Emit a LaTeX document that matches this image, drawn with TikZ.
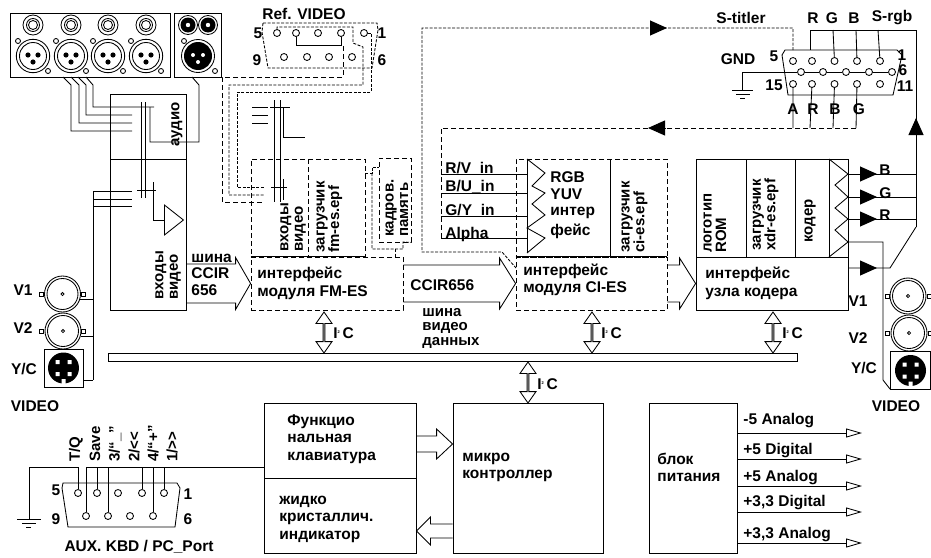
\documentclass[tikz,border=0pt]{standalone}
\usepackage{fontspec}
\setmainfont{Liberation Sans}
\usetikzlibrary{positioning,shapes.arrows,shapes.geometric,arrows.meta,calc}

\begin{document}
\begin{tikzpicture}[
  x=1pt, y=-1pt,
  line width=0.85pt,
  every node/.style={font=\fontsize{15.5}{17.5}\bfseries\selectfont},
  lbl/.style={inner sep=0pt, anchor=west, align=left},
  rlbl/.style={inner sep=0pt, anchor=west, align=left, rotate=90,
               font=\fontsize{15}{14.5}\bfseries\selectfont},
  cl/.style={inner sep=0pt, anchor=center},
  solidbox/.style={rectangle, draw, inner sep=0pt},
  dashbox/.style={rectangle, draw, inner sep=0pt, dash pattern=on 5pt off 3pt},
  hole/.style={circle, draw, fill=white, inner sep=0pt, minimum size=7pt},
  dashwire/.style={dash pattern=on 5pt off 3pt},
  finewire/.style={dash pattern=on 3pt off 1.5pt},
  headfill/.style={-{Triangle[length=17pt,width=15pt]}},
  headopen/.style={-{Triangle[open,length=16pt,width=9pt]}},
  fat/.style n args={3}{to path={
    ($(\tikztostart)+(0,-#1)$) -- ($(\tikztotarget)+({-(#3)},-#1)$) -- ++(0,-#2)
    -- (\tikztotarget) -- ($(\tikztotarget)+({-(#3)},#1+#2)$) -- ++(0,-#2)
    -- ($(\tikztostart)+(0,#1)$)}},
  i2carrow/.style={double arrow, draw, fill=white, inner sep=0pt, shape border rotate=90,
    minimum height=41pt, minimum width=16pt, double arrow head extend=3.5pt,
    double arrow tip angle=70}
]
  \useasboundingbox (0,0) rectangle (931,557);

  \node[solidbox, minimum width=160pt, minimum height=64pt] (xlrpanel) at (90.5,45) {};
  \node[solidbox, minimum width=47pt, minimum height=64pt] (blackpanel) at (197.5,45) {};
  \foreach \x in {33,71,108,146} {
    \draw (\x,25) circle[radius=10pt] (\x,25) circle[radius=6.5pt] (\x,25) circle[radius=4.5pt];
    \draw (\x,56) circle[radius=16.7pt] (\x,56) circle[radius=13.5pt];
    \draw (\x-15,41) circle[radius=2.5pt] (\x+15,71) circle[radius=2.5pt];
    \fill (\x-5,55) circle[radius=2.6pt] (\x+5,55) circle[radius=2.6pt] (\x,62) circle[radius=2.6pt];
  }
  \foreach \x in {188,208} {
    \draw (\x,25) circle[radius=9.5pt];
    \fill (\x,25) circle[radius=7.5pt];
    \fill[white] (\x,25) circle[radius=2.2pt];
  }
  \draw (198,56) circle[radius=16.5pt] (184,41) circle[radius=2.5pt] (215,71) circle[radius=2.5pt];
  \fill (198,56) circle[radius=14pt];
  \fill[white] (193,55) circle[radius=2pt] (203,55) circle[radius=2pt] (198,62) circle[radius=2pt];

  \node[solidbox, minimum width=76pt, minimum height=65pt] (audio) at (148.5,126.5) {};
  \node[solidbox, minimum width=76pt, minimum height=151pt] (vidin) at (148.5,234.5) {};
  \node[rlbl] (audiotxt) at (177,147) {аудио};
  \node[rlbl] (vidintxt) at (168,300) {входы\\видео};

  \coordinate (xlr1) at (63,77);
  \coordinate (xlr2) at (71,77);
  \coordinate (xlr3) at (78,77);
  \coordinate (xlr4) at (86,77);
  \coordinate (xlrblack) at (192,77);
  \draw (xlr1) -- (71,85) -- (71,131) -- (132,131);
  \draw (xlr2) -- (79,85) -- (79,123) -- (132,123);
  \draw (xlr3) -- (86,85) -- (86,115) -- (132,115);
  \draw (xlr4) -- (93,85) -- (93,107) -- (154,107);
  \draw (xlrblack) -- (199,85) -- (199,142) -- (150,142) -- (150,107);
  \draw (141,102) -- (141,198) (145,102) -- (145,198);
  \draw (137,190) -- (156,190) (153,182) -- (153,220) -- (164,220);
  \node[isosceles triangle, draw, inner sep=0pt, minimum height=19pt, minimum width=30pt,
        isosceles triangle stretches, anchor=west] (vidamp) at (164,220) {};

  % left video sockets
  \foreach \n/\x/\y/\tl/\tr in {l1/62.5/294/41/83, l2/63/331/41.5/83, r1/908/296/887/929, r2/909/333/887/930} {
    \node[circle, draw, inner sep=0pt, minimum size=36pt] (bnc\n) at (\x,\y) {};
    \draw (\x,\y) circle[radius=15.5pt];
    \draw (\x,\y) circle[radius=1.6pt];
    \draw[fill=white] (\tl-2,\y-2) rectangle (\tl+2,\y+2) (\tr-2,\y-2) rectangle (\tr+2,\y+2);
  }
  \foreach \n/\x/\y/\w in {l/63.5/368/39, r/910.5/370.5/40} {
    \node[solidbox, minimum width=\w pt, minimum height=38pt] (yc\n) at (\x,\y) {};
    \fill (\x,\y) circle[radius=15.5pt];
    \fill[white] (\x-8,\y-8) rectangle ++(4,4) (\x+4,\y-8) rectangle ++(4,4)
                 (\x-8,\y+4) rectangle ++(4,4) (\x+4,\y+4) rectangle ++(4,4)
                 (\x-2,\y+11) rectangle ++(4,6);
  }
  \coordinate (vbtop) at (93,191);
  \coordinate (vbbot) at (93,380);
  \draw[line width=1pt] (vbtop) -- (vbbot);
  \draw (vbtop) -- (132,191) (93,199) -- (132,199) (93,206) -- (132,206);
  \draw (bncl1.-18) -- (bncl1.-18 -| vbtop);
  \draw (bncl2.-18) -- (bncl2.-18 -| vbtop);
  \draw (vbbot -| ycl.east) -- (vbbot);

  \node[cl] (v1l) at (23,290) {V1};
  \node[cl] (v2l) at (23,328) {V2};
  \node[cl] (ycl1) at (24,369) {Y/C};
  \node[cl] (videol) at (35,406) {VIDEO};
  \node[cl] (v1r) at (858,301) {V1};
  \node[cl] (v2r) at (858,338) {V2};
  \node[cl] (ycr1) at (864,368) {Y/C};
  \node[cl] (videor) at (896,406) {VIDEO};

  % FM-ES
  \node[dashbox, minimum width=114pt, minimum height=98pt] (fmtop) at (308,208) {};
  \node[dashbox, minimum width=152pt, minimum height=53pt] (fmlow) at (327,283.5) {};
  \draw (fmlow.north west) -- (fmlow.north west -| fmtop.east);
  \draw[dashwire] (308,159) -- (308,257);
  \node[dashbox, minimum width=32pt, minimum height=84pt] (framemem) at (395,200) {};
  \node[rlbl] (fminl) at (293,252) {входы\\видео};
  \node[rlbl] (fmload) at (329.5,253) {загрузчик\\fm-es.epf};
  \node[rlbl] (memlbl) at (397,237) {кадров.\\память};
  \node[lbl] (fmlbl) at (257,283.5) {интерфейс\\модуля FM-ES};
  \draw[finewire] (fmtop.east |- 0,173) -- (372,173) -- (372,167) -- (framemem.west |- 0,167);
  \draw[finewire] (372,173) -- (372,249) -- (403,249) -- (403,242) -- (framemem.south east);
  \draw[finewire] (395,249) -- (395,257);
  \draw (252,107) -- (268,107) (252,115) -- (268,115) (252,123) -- (268,123);
  \draw (274,100) -- (274,202) (280,100) -- (280,202);
  \draw (270,107) -- (290,107) (283,107) -- (283,137) -- (305,137);
  \draw (271,187) -- (287,187) (283,179) -- (283,200);

  % Ref. VIDEO socket
  \draw[finewire] (263,23) -- (377,23) -- (378,30) -- (372,68) -- (268,68) -- (262,32) -- cycle;
  \foreach \n/\x in {1/277,2/296,3/318,4/341,5/364} \node[hole] (ref\n) at (\x,33) {};
  \foreach \n/\x in {6/284,7/307,8/329,9/352} \node[hole] (ref\n) at (\x,57) {};
  \draw (ref2) |- (296,45) -| (ref4);
  \draw[finewire] (ref1) |- (353,27) -- (353,43) -- (363,47) -- (363,85) -| (229,195) -- (264,195);
  \draw[finewire] (ref5) -- (371,33) -- (371,92) -| (237,187) -- (264,187);
  \draw[dashwire] (343,46) -- (343,77) -| (222,202) -- (264,202);
  \node[cl] (refttl) at (304,14) {Ref. VIDEO};
  \node[cl] (ref5l) at (258,33) {5};
  \node[cl] (ref1l) at (382,33) {1};
  \node[cl] (ref9l) at (257,60) {9};
  \node[cl] (ref6l) at (382,60) {6};

  % CI-ES
  \node[dashbox, minimum width=151pt, minimum height=98pt] (citop) at (591.5,208) {};
  \node[dashbox, minimum width=151pt, minimum height=53pt] (cilow) at (591.5,283.5) {};
  \draw (cilow.north west) -- (cilow.north east);
  \draw (610,159) -- (610,257);
  \draw (527,159) -- (527,253);
  \draw (527,159) -- (545,173) -- (532,186) -- (545,193) -- (532,204) -- (545,215) -- (527,228) -- (545,238) -- (527,253);
  \draw (441,174) -- (527,174) (441,193) -- (527,193) (441,216) -- (527,216) (441,238) -- (527,238);
  \node[lbl] (rvin) at (445,169) {R/V\_in};
  \node[lbl] (buin) at (445,187) {B/U\_in};
  \node[lbl] (gyin) at (445,211) {G/Y\_in};
  \node[lbl] (alpha) at (445,234) {Alpha};
  \node[lbl] (rgbl) at (550,177) {RGB};
  \node[lbl] (yuvl) at (550,194) {YUV};
  \node[lbl] (interl) at (550,213) {интер};
  \node[lbl] (feisl) at (550,231) {фейс};
  \node[rlbl] (ciload) at (634.5,253) {загрузчик\\ci-es.epf};
  \node[lbl] (cilbl) at (523,280) {интерфейс\\модуля CI-ES};

  % coder
  \node[solidbox, minimum width=152pt, minimum height=98pt] (codtop) at (772,208) {};
  \node[solidbox, minimum width=152pt, minimum height=53pt] (codlow) at (772,283.5) {};
  \draw (746,159) -- (746,257) (795,159) -- (795,257) (829,159) -- (829,257);
  \draw (829,159) -- (848,174) -- (835,185) -- (848,197) -- (835,208) -- (848,219) -- (835,230) -- (848,242) -- (829,257);
  \node[rlbl] (logol) at (715,253) {логотип\\ROM};
  \node[rlbl] (codload) at (765.5,251) {загрузчик\\xdr-es.epf};
  \node[rlbl] (coderl) at (810,243) {кодер};
  \node[lbl] (codlbl) at (705,283.5) {интерфейс\\узла кодера};

  % fat arrows
  \coordinate (ccirin) at (vidin.east |- fmlow.west);
  \draw (ccirin) to[fat={19.5}{6.5}{15}] (fmlow.west);
  \draw (fmlow.east) to[fat={18.5}{7}{16}] (cilow.west);
  \draw (cilow.east) to[fat={18.5}{7}{16}] (codlow.west);
  \node[lbl] (ccirl) at (191,274.5) {шина\\[-1pt]CCIR\\[-1pt]656};
  \node[lbl] (ccirb) at (410,285) {CCIR656};
  \node[lbl, font=\fontsize{15}{14.5}\bfseries\selectfont] (vbusl) at (422,328) {шина\\видео\\данных};

  \draw[finewire] (793,50) -- (793,28) -- (422,28) -- (422,252) -- (502,252) -- (516,268);
  \draw[headfill] (650,28) -- (667,28);
  \draw[dashwire] (856,128) -- (441,128) -- (441,238);
  \draw[headfill] (666,128) -- (648,128);

  % I2C bus
  \node[solidbox, minimum width=689pt, minimum height=8.5pt] (bus) at (452.5,357.5) {};
  \foreach \n/\x in {fm/324,ci/592,cod/773} {
    \node[i2carrow] (i2c\n) at (\x,332.5) {};
    \node[lbl] (i2cl\n) at (\x+9,333) {I\raisebox{5pt}{\fontsize{4}{4}\selectfont 2}\,C};
  }
  \node[i2carrow] (i2cmc) at (528,382.5) {};
  \node[lbl] (i2clmc) at (537,384) {I\raisebox{5pt}{\fontsize{4}{4}\selectfont 2}\,C};

  % VGA socket
  \draw (785,50) -- (897,50) -- (902,55) -- (893,95) -- (788,95) -- (782,55) -- cycle;
  \foreach \n/\x in {1/880,2/857,3/834.5,4/812,5/793} \node[hole] (vga\n) at (\x,61) {};
  \foreach \n/\x in {6/892,7/869,8/846,9/823,10/801} \node[hole] (vga\n) at (\x,72) {};
  \foreach \n/\x in {11/880,12/857,13/834.5,14/812,15/793} \node[hole] (vga\n) at (\x,84) {};
  \coordinate (gndtop) at (742,90);
  \draw (vga6) -- (vga7) (vga7) -- (vga8) (vga8) -- (vga9) (vga9) -- (vga10) (vga10) -- (742,72) -- (gndtop);
  \draw (732,90) -- (753,90) (736,94) -- (750,94) (740,98) -- (745,98);
  \draw (810,30) -- (810,50);
  \draw (vga3) -- (833,30) (vga2) -- (856,30) (vga1) -- (878,30);
  \draw (vga15) -- (793,128) (vga14) -- (810,128) (vga13) -- (833,128) (vga12) -- (856,128);
  \draw (916,227) |- (810,30);
  \draw (916,227) -- (890,268) -- (codlow.east |- 0,268);
  \draw[headfill] (860,268) -- (877,268);
  \draw[-{Triangle[length=17pt,width=15pt]}] (916,135) -- (916,118);
  \node[cl] (stitl) at (741,18) {S-titler};
  \node[cl] (rl) at (813,18) {R};
  \node[cl] (gl) at (832,18) {G};
  \node[cl] (bl) at (854,18) {B};
  \node[cl] (srgbl) at (892,18) {S-rgb};
  \node[cl] (gndl) at (738,59) {GND};
  \node[cl] (vga5l) at (774,56) {5};
  \node[cl] (vga1l) at (902,55) {1};
  \node[cl] (vga6l) at (903,70) {6};
  \node[cl] (vga11l) at (905,86) {11};
  \node[cl] (vga15l) at (774,85) {15};
  \node[cl] (al) at (793,109) {A};
  \node[cl] (r2l) at (813,109) {R};
  \node[cl] (b2l) at (835,109) {B};
  \node[cl] (g2l) at (859,109) {G};

  \foreach \y/\t in {174/B,197/G,219/R} {
    \draw (codtop.east |- 0,\y) -- (916,\y);
    \draw[headfill] (860,\y) -- (877,\y);
    \node[lbl] (out\t) at (879,\y-4) {\t};
  }
  \draw (848,242) -- (883,242) -- (883,380) -- (890,389);

  % bottom row
  \node[solidbox, minimum width=152pt, minimum height=75pt] (keyb) at (340,440.5) {};
  \node[solidbox, minimum width=152pt, minimum height=75pt] (lcd) at (340,515.5) {};
  \node[solidbox, minimum width=150pt, minimum height=150pt] (micro) at (528,478) {};
  \node[lbl] (keybl) at (287,439) {Функцио\\нальная\\клавиатура};
  \node[lbl] (lcdl) at (279,519) {жидко\\кристаллич.\\индикатор};
  \node[lbl] (microl) at (462,467.5) {микро\\контроллер};
  \coordinate (kbtip) at (micro.west |- 0,444);
  \coordinate (kbfrom) at (keyb.east |- 0,444);
  \coordinate (lcdtip) at (lcd.east |- 0,531);
  \coordinate (lcdfrom) at (micro.west |- 0,531);
  \draw (kbfrom) to[fat={8}{7}{16}] (kbtip);
  \draw (lcdfrom) to[fat={7}{7}{-14}] (lcdtip);

  \node[solidbox, minimum width=88pt, minimum height=150pt] (power) at (693,478) {};
  \node[lbl] (powerl) at (657,467.5) {блок\\питания};
  \foreach \n/\y/\ty/\t in {1/433/421/{-5 Analog}, 2/459/451/{+5 Digital}, 3/486/478/{+5 Analog}, 4/512/503/{+3,3 Digital}, 5/543/535/{+3,3 Analog}} {
    \coordinate (pwr\n) at (862,\y);
    \draw[headopen] (power.east |- pwr\n) -- (pwr\n);
    \node[lbl] (pwrl\n) at (743,\ty) {\t};
  }

  % AUX socket
  \draw (63,483) -- (177,483) -- (180,488) -- (175,527) -- (68,527) -- (62,488) -- cycle;
  \foreach \n/\x in {1/164,2/142,3/118,4/97,5/78} \node[hole] (aux\n) at (\x,493) {};
  \foreach \n/\x in {6/153,7/130,8/108,9/86} \node[hole] (aux\n) at (\x,516) {};
  \coordinate (auxline) at (86,467);
  \draw (aux5) -- (78,467) -- (29,467) -- (29,519);
  \draw (17,519) -- (41,519) (22,523) -- (36,523) (26,527) -- (31,527);
  \draw (aux9) -- (auxline) -- (auxline -| keyb.west);
  \draw (aux4) -- (97,467) (aux8) -- (108,467) (aux2) -- (142,467) (aux6) -- (153,467) (aux1) -- (164,467);
  \foreach \n/\x/\t in {1/76/{T/Q}, 2/95/Save, 3/115/{3/“\_”}, 4/134/{2/<{}<}, 5/153/{4/“+”}, 6/172/{1/>{}>}} {
    \node[rlbl] (auxl\n) at (\x,462) {\t};
  }
  \node[cl] (aux5l) at (56,490) {5};
  \node[cl] (aux1l) at (188,494) {1};
  \node[cl] (aux9l) at (56,519) {9};
  \node[cl] (aux6l) at (188,519) {6};
  \node[cl] (auxttl) at (139,547) {AUX. KBD / PC\_Port};
\end{tikzpicture}
\end{document}
